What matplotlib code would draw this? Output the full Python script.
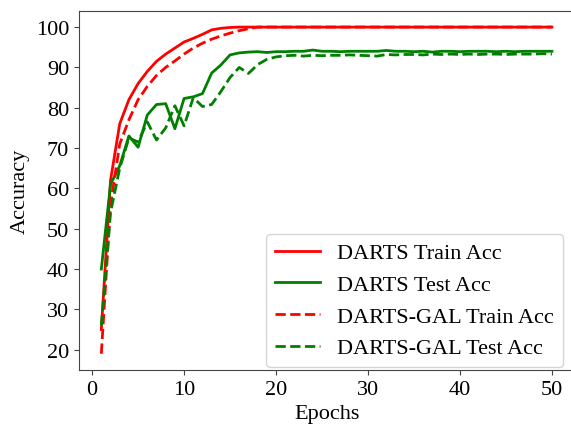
import matplotlib
matplotlib.use('Agg')
import matplotlib.pyplot as plt

plt.rcParams['font.family'] = ['Liberation Serif', 'DejaVu Serif']
plt.rcParams['font.size'] = 16

epochs = list(range(1, 51))

# DARTS train accuracy
darts_train = [25, 62, 76, 82, 86, 89, 91.5, 93.3, 94.8, 96.3,
               97.2, 98.2, 99.3, 99.7, 99.9] + [100] * 35

# DARTS test accuracy
darts_test = [40, 61, 65.6, 73, 70.2, 78.2, 80.8, 81, 74.8, 82.3,
              82.7, 83.5, 88.6, 90.6, 93.1, 93.6, 93.8, 93.9, 93.7, 93.9,
              93.9, 94.0, 94.0, 94.3, 94.0, 94.0, 93.9, 94.0, 94.0, 94.0,
              94.0, 94.2, 94.0, 94.0, 93.9, 94.0, 93.8, 94.0, 94.0, 93.9,
              94.0, 94.0, 94.0, 93.9, 94.0, 93.9, 94.0, 94.0, 94.0, 94.0]

# DARTS-GAL train accuracy
gal_train = [19, 56, 71, 77, 82, 85.3, 88, 90, 91.6, 93.3,
             94.8, 96, 97, 97.8, 98.5, 99.1, 99.6] + [100] * 33

# DARTS-GAL test accuracy
gal_test = [26, 54, 65, 72.5, 71.5, 76.5, 72, 75, 80.5, 75.5,
            82.5, 80.3, 80.8, 84, 87.5, 90, 88.5, 90.7, 92, 92.6,
            92.9, 93.0, 92.8, 93.0, 92.9, 93.0, 93.0, 93.1, 93.0, 92.9,
            92.8, 93.2, 93.1, 93.2, 93.2, 93.1, 93.3, 93.2, 93.3, 93.2,
            93.3, 93.2, 93.3, 93.3, 93.2, 93.3, 93.3, 93.3, 93.4, 93.3]

fig = plt.figure(figsize=(5.71, 4.35), dpi=100)
ax = fig.add_axes([0.138, 0.147, 0.868, 0.826])

ax.plot(epochs, darts_train, color='r', lw=2, label='DARTS Train Acc')
ax.plot(epochs, darts_test, color='g', lw=2, label='DARTS Test Acc')
ax.plot(epochs, gal_train, color='r', lw=2, ls='--', label='DARTS-GAL Train Acc')
ax.plot(epochs, gal_test, color='g', lw=2, ls='--', label='DARTS-GAL Test Acc')

# the right edge of the frame falls just outside the picture
ax.spines['right'].set_visible(False)
for s in ['left', 'top', 'bottom']:
    ax.spines[s].set_color('#444444')

ax.set_xticks([0, 10, 20, 30, 40, 50])
ax.set_yticks([20, 30, 40, 50, 60, 70, 80, 90, 100])
ax.tick_params(color='#444444')
ax.set_xlabel('Epochs')
ax.set_ylabel('Accuracy')

ax.legend(loc='lower right', bbox_to_anchor=(0.977, 0.008), borderaxespad=0)

fig.savefig('out.png', dpi=100)
